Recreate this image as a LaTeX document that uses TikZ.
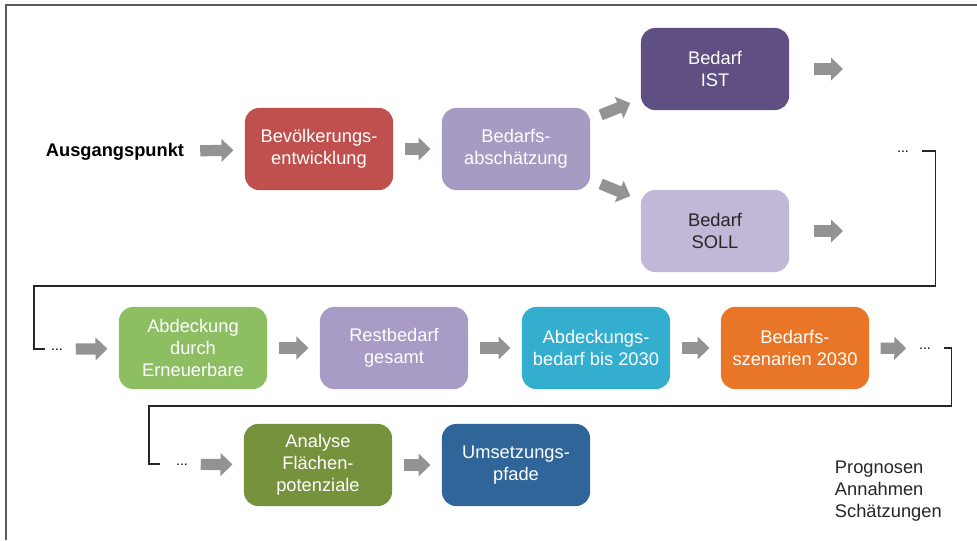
\documentclass[tikz,border=0pt]{standalone}
\usepackage{fontspec}
\setmainfont{Liberation Sans}
\usepackage{tikz}
\usetikzlibrary{arrows.meta}
\definecolor{bvred}{HTML}{C0504D}
\definecolor{bdlila}{HTML}{A69BC2}
\definecolor{istlila}{HTML}{5F4F82}
\definecolor{solllila}{HTML}{C1B7D7}
\definecolor{eegruen}{HTML}{8EBE62}
\definecolor{restlila}{HTML}{A89BC5}
\definecolor{abdblau}{HTML}{33AECF}
\definecolor{szorange}{HTML}{E97627}
\definecolor{flgruen}{HTML}{77923D}
\definecolor{umblau}{HTML}{2F6598}
\definecolor{pfeilgrau}{HTML}{939393}
\definecolor{rahmen}{HTML}{595959}

\begin{document}
\begin{tikzpicture}[x=0.025cm,y=-0.025cm,
  every node/.style={font=\fontsize{13}{15.6}\selectfont},
  stage/.style={rounded corners=0.35cm,minimum width=3.7cm,minimum height=2.05cm,align=center,text=white},
  flow/.style={line width=0.28cm,pfeilgrau,-{Triangle[length=0.3cm,width=0.56cm]},shorten <=0.28cm,shorten >=0.28cm},
  link/.style={line width=1.2pt,black!85},
  ellip/.style={font=\fontsize{10}{12}\selectfont,inner sep=1pt}]
  \useasboundingbox (0,0) rectangle (977,540);
  \draw[rahmen,line width=1.2pt] (6,540) -- (6,5) -- (977,5);

  \node[font=\bfseries\fontsize{13}{15.6}\selectfont] (start) at (115,152) {Ausgangspunkt};
  \node[stage,fill=bvred] (bev) at (319,149) {Bevölkerungs-\\entwicklung};
  \node[stage,fill=bdlila] (bed) at (516,149) {Bedarfs-\\abschätzung};
  \node[stage,fill=istlila] (ist) at (715,69) {Bedarf\\IST};
  \node[stage,fill=solllila,text=black!85] (soll) at (715,231) {Bedarf\\SOLL};
  \coordinate (istout) at (843,69);
  \coordinate (sollout) at (843,231);
  \node[ellip,anchor=base] (d1) at (903,152) {...};

  \node[ellip,anchor=base] (d2) at (57,350) {...};
  \node[stage,fill=eegruen] (ee) at (193,348) {Abdeckung\\durch\\Erneuerbare};
  \node[stage,fill=restlila] (rest) at (394,348) {Restbedarf\\gesamt};
  \node[stage,fill=abdblau] (abd) at (596,348) {Abdeckungs-\\bedarf bis 2030};
  \node[stage,fill=szorange] (sz) at (795,348) {Bedarfs-\\szenarien 2030};
  \node[ellip,anchor=base] (d3) at (925,349) {...};

  \node[ellip,anchor=base] (d4) at (182,465) {...};
  \node[stage,fill=flgruen] (fl) at (318,465) {Analyse\\Flächen-\\potenziale};
  \node[stage,fill=umblau] (ums) at (516,465) {Umsetzungs-\\pfade};

  \node[anchor=north west,align=left,text=black!85] (prog) at (830,456) {Prognosen\\Annahmen\\Schätzungen};

  \draw[flow] (start) -- (bev);
  \draw[flow] (bev) -- (bed);
  \draw[flow] (bed) -- (ist);
  \draw[flow] (bed) -- (soll);
  \draw[flow,shorten <=0.62cm,shorten >=0cm] (ist) -- (istout);
  \draw[flow,shorten <=0.62cm,shorten >=0cm] (soll) -- (sollout);
  \draw[flow] (d2) -- (ee);
  \draw[flow] (ee) -- (rest);
  \draw[flow] (rest) -- (abd);
  \draw[flow] (abd) -- (sz);
  \draw[flow] (sz) -- (d3);
  \draw[flow] (d4) -- (fl);
  \draw[flow] (fl) -- (ums);

  \draw[link,shorten <=8pt,shorten >=3pt] (d1.east) -- ++(25,0) |- (34,286) |- (d2.west);
  \draw[link,shorten <=8pt,shorten >=10pt] (d3.east) -- ++(19,0) |- (149,406) |- (d4.west);
\end{tikzpicture}
\end{document}
